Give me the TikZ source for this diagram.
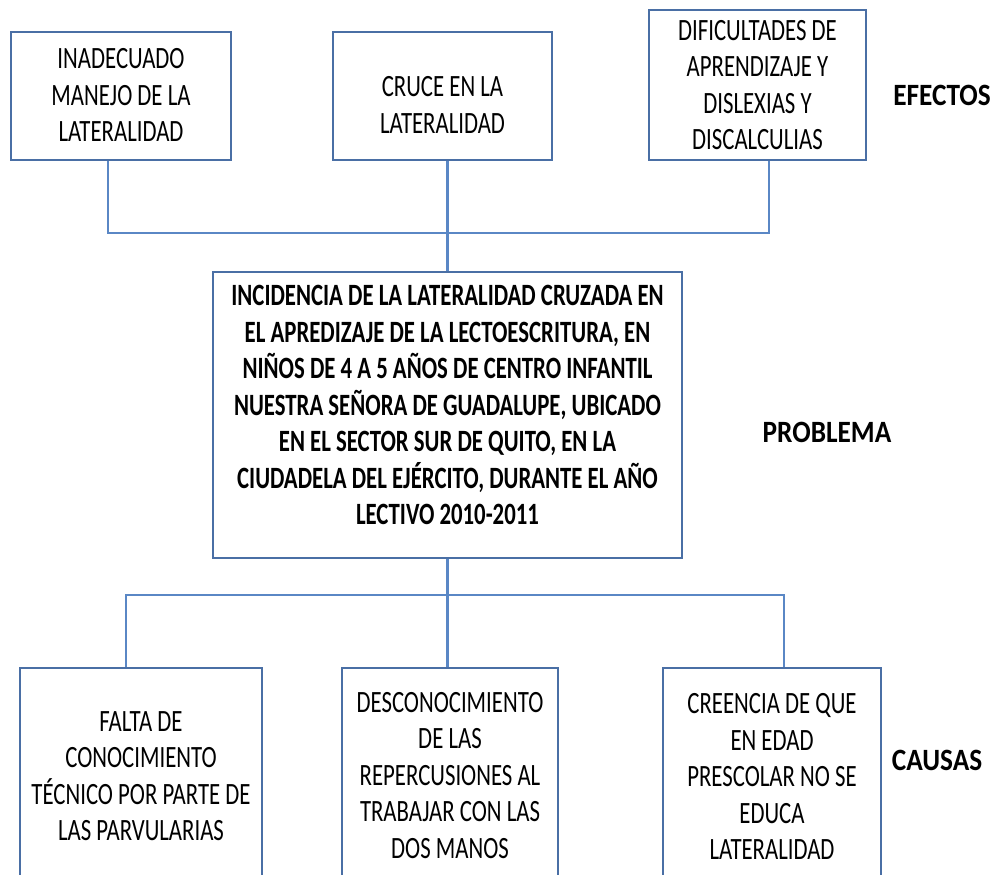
\documentclass[tikz,border=0pt]{standalone}
\usepackage{fontspec}
\setmainfont[FakeStretch=0.735]{Carlito}
\newfontfamily\lblfont[FakeStretch=0.88]{Carlito}
\definecolor{boxc}{RGB}{74,111,165}
\definecolor{linec}{RGB}{90,135,197}
\tikzset{
  box/.style={draw=boxc, line width=2.6pt, rectangle, inner sep=0pt, fill=none},
  conn/.style={draw=linec, line width=2.4pt},
  txt/.style={align=center, inner sep=0pt, font=\fontsize{31}{36.5}\selectfont},
  btxt/.style={align=center, inner sep=0pt, font=\fontsize{31}{36.5}\selectfont\bfseries},
  lbl/.style={inner sep=0pt, font=\lblfont\fontsize{31}{36.5}\selectfont\bfseries}
}
\begin{document}
\begin{tikzpicture}[x=1pt,y=-1pt]
\useasboundingbox (0,0) rectangle (1001,875);
\clip (0,0) rectangle (1001,875);
% effect boxes
\node[box, minimum width=220pt, minimum height=128pt] (e1) at (121,96) {};
\node[box, minimum width=219pt, minimum height=128pt] (e2) at (442.5,96) {};
\node[box, minimum width=217pt, minimum height=150pt] (e3) at (757.5,85) {};
\node[txt] (t1) at (121,95) {INADECUADO\\MANEJO DE LA\\LATERALIDAD};
\node[txt] (t2) at (442.5,105) {CRUCE EN LA\\LATERALIDAD};
\node[txt] (t3) at (757.5,85) {DIFICULTADES DE\\APRENDIZAJE Y\\DISLEXIAS Y\\DISCALCULIAS};
\node[lbl] (efectos) at (942,95) {EFECTOS};
% problem box
\node[box, minimum width=469pt, minimum height=286pt] (pc) at (447.5,415) {};
\node[btxt] (tc) at (447.5,405) {INCIDENCIA DE LA LATERALIDAD CRUZADA EN\\EL APREDIZAJE DE LA LECTOESCRITURA, EN\\NIÑOS DE 4 A 5 AÑOS DE CENTRO INFANTIL\\NUESTRA SEÑORA DE GUADALUPE, UBICADO\\EN EL SECTOR SUR DE QUITO, EN LA\\CIUDADELA DEL EJÉRCITO, DURANTE EL AÑO\\LECTIVO 2010-2011};
\node[lbl] (problema) at (827,432) {PROBLEMA};
% cause boxes
\node[box, minimum width=242pt, minimum height=240pt] (c1) at (141,788) {};
\node[box, minimum width=216pt, minimum height=240pt] (c2) at (450,788) {};
\node[box, minimum width=218pt, minimum height=240pt] (c3) at (772,788) {};
\node[txt] (u1) at (141,776) {FALTA DE\\CONOCIMIENTO\\TÉCNICO POR PARTE DE\\LAS PARVULARIAS};
\node[txt] (u2) at (450,775.5) {DESCONOCIMIENTO\\DE LAS\\REPERCUSIONES AL\\TRABAJAR CON LAS\\DOS MANOS};
\node[txt] (u3) at (772,776.5) {CREENCIA DE QUE\\EN EDAD\\PRESCOLAR NO SE\\EDUCA\\LATERALIDAD};
\node[lbl] (causas) at (937,760) {CAUSAS};
% connectors
\coordinate (j1) at (108,233);
\coordinate (j3) at (769,233);
\coordinate (k1) at (126,595);
\coordinate (k3) at (784,595);
\draw[conn] (e1.south -| j1) -- (j1) -- (j3) -- (e3.south -| j3);
\draw[conn] (e2.south -| pc.north) -- (pc.north);
\draw[conn] (pc.south) -- (c2.north -| pc.south);
\draw[conn] (c1.north -| k1) -- (k1) -- (k3) -- (c3.north -| k3);
\end{tikzpicture}
\end{document}
